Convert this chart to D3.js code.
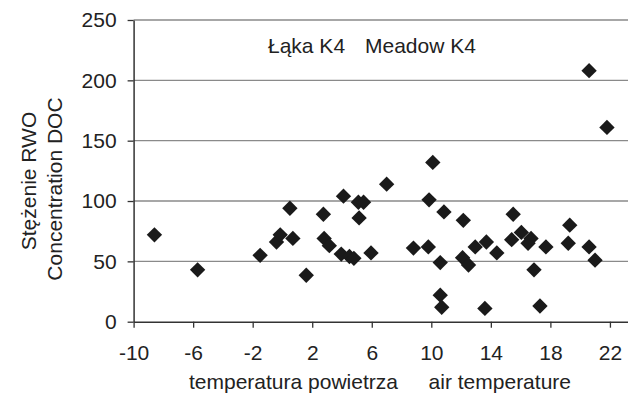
<!DOCTYPE html>
<html>
<head>
<meta charset="utf-8">
<script src="https://cdn.jsdelivr.net/npm/d3@7"></script>
<style>
  html, body { margin: 0; padding: 0; background: #fff; }
  svg { display: block; }
  text { font-family: "Liberation Sans", Arial, sans-serif; fill: #222; }
</style>
</head>
<body>
<svg id="chart" width="628" height="398"></svg>
<script>
// Air temperature (x) and DOC concentration (y), Meadow K4
const airTemp = [
  -8.6, -5.7, -1.5, -0.4, -0.15, 0.5, 0.7, 1.6, 2.75, 2.8,
  3.15, 4.1, 3.95, 4.5, 4.8, 5.1, 5.45, 5.15, 5.95, 7.0,
  8.8, 9.8, 9.85, 10.1, 10.85, 10.6, 10.6, 10.7, 12.15, 12.1,
  12.5, 12.95, 13.7, 13.6, 14.4, 15.5, 15.4, 16.05, 16.5, 16.7,
  16.9, 17.3, 17.7, 19.3, 19.2, 20.6, 21.0, 20.6, 21.8
];
const docConc = [
  72, 43, 55, 66, 72, 94, 69, 38.5, 89, 69,
  63, 104, 56, 54, 52.5, 99, 99, 86, 57, 114,
  61, 62, 101, 132, 91, 49, 22, 12, 84, 53,
  47, 62, 66, 11, 57, 89, 68, 74, 65, 69,
  43, 13, 62, 80, 65, 62, 51, 208, 161
];
const xTicks = [-10, -6, -2, 2, 6, 10, 14, 18, 22];
const yTicks = [0, 50, 100, 150, 200, 250];
const titleLeft = "Łąka K4";
const titleRight = "Meadow K4";
const xLabelLeft = "temperatura powietrza";
const xLabelRight = "air temperature";
const yLabelLine1 = "Stężenie RWO";
const yLabelLine2 = "Concentration DOC";

const svg = d3.select("#chart");
const x = d3.scaleLinear().domain([-10, 24]).range([133.6, 639.7]);
const y = d3.scaleLinear().domain([0, 250]).range([321.7, 20]);
const FS = 21;

// gridlines
svg.append("g")
  .selectAll("line")
  .data(yTicks.filter(d => d > 0))
  .join("line")
  .attr("x1", x(-10)).attr("x2", 628)
  .attr("y1", d => y(d)).attr("y2", d => y(d))
  .attr("stroke", "#8a8a8a").attr("stroke-width", 1.3);

// y axis
const yAxis = svg.append("g")
  .attr("transform", `translate(${x(-10)},0)`)
  .call(d3.axisLeft(y).tickValues(yTicks).tickFormat(d => String(d))
    .tickSize(6).tickSizeOuter(0).tickPadding(11));
yAxis.select(".domain").attr("stroke", "#333").attr("stroke-width", 1.5);
yAxis.selectAll(".tick line").attr("stroke", "#333").attr("stroke-width", 1.3);
yAxis.selectAll("text").style("font-size", FS + "px").attr("fill", "#222")
  .style("font-family", '"Liberation Sans", Arial, sans-serif');

// x axis
const xAxis = svg.append("g")
  .attr("transform", `translate(0,${y(0)})`)
  .call(d3.axisBottom(x).tickValues(xTicks).tickFormat(d => String(d))
    .tickSize(6).tickSizeOuter(0).tickPadding(17));
xAxis.select(".domain").attr("stroke", "#333").attr("stroke-width", 1.5);
xAxis.selectAll(".tick line").attr("stroke", "#333").attr("stroke-width", 1.3);
xAxis.selectAll("text").style("font-size", FS + "px").attr("fill", "#222")
  .style("font-family", '"Liberation Sans", Arial, sans-serif');

// points
const diamond = d3.symbol().type(d3.symbolSquare).size(118)();
svg.append("g")
  .selectAll("path")
  .data(airTemp.map((t, i) => [t, docConc[i]]))
  .join("path")
  .attr("d", diamond)
  .attr("transform", d => `translate(${x(d[0])},${y(d[1])}) rotate(45)`)
  .attr("fill", "#1a1a1a");

// titles
svg.append("text").attr("x", 268).attr("y", 53).style("font-size", FS + "px").text(titleLeft);
svg.append("text").attr("x", 365).attr("y", 53).style("font-size", FS + "px").text(titleRight);

// x label
svg.append("text").attr("x", 189).attr("y", 389).style("font-size", FS + "px").text(xLabelLeft);
svg.append("text").attr("x", 571).attr("y", 389).attr("text-anchor", "end").style("font-size", FS + "px").text(xLabelRight);

// y label
svg.append("text").attr("transform", "translate(36,181) rotate(-90)")
  .attr("text-anchor", "middle").style("font-size", FS + "px").text(yLabelLine1);
svg.append("text").attr("transform", "translate(62,189) rotate(-90)")
  .attr("text-anchor", "middle").style("font-size", FS + "px").text(yLabelLine2);
</script>
</body>
</html>
